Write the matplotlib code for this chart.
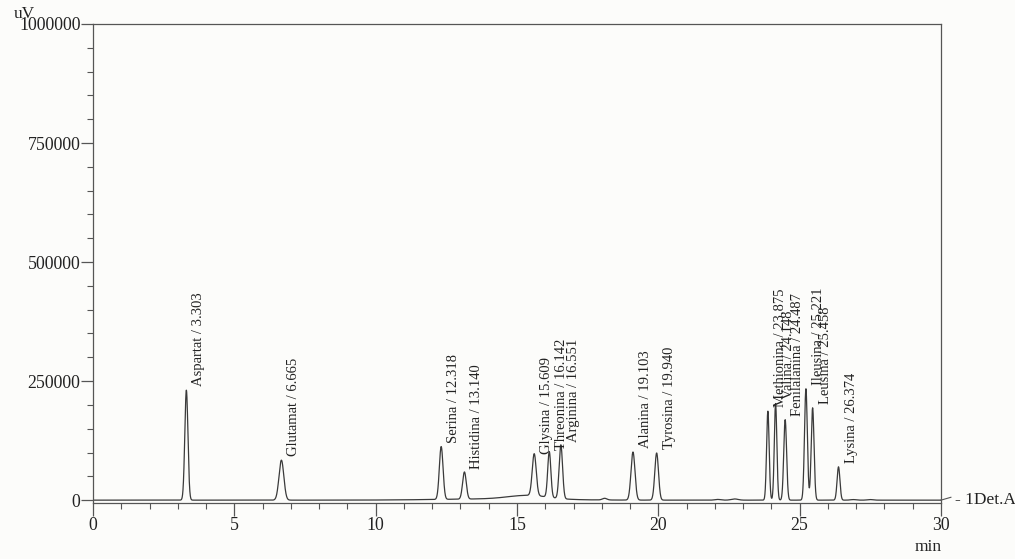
import numpy as np
import matplotlib.pyplot as plt
from matplotlib.ticker import MultipleLocator, FormatStrFormatter

# Puncak asam amino: nama, waktu retensi (menit), tinggi (uV), lebar (sigma, menit)
nama = ['Aspartat', 'Glutamat', 'Serina', 'Histidina', 'Glysina', 'Threonina',
        'Arginina', 'Alanina', 'Tyrosina', 'Methionina', 'Valina',
        'Fenilalanina', 'Ileusina', 'Leusina', 'Lysina']
waktu = [3.303, 6.665, 12.318, 13.140, 15.609, 16.142, 16.551, 19.103,
         19.940, 23.875, 24.148, 24.487, 25.221, 25.458, 26.374]
tinggi = [231000, 84000, 111000, 57000, 88000, 96000, 113000, 101000,
          99000, 187000, 203000, 169000, 234000, 194000, 70000]
lebar = [0.055, 0.085, 0.065, 0.065, 0.07, 0.055, 0.06, 0.07,
         0.065, 0.045, 0.045, 0.05, 0.05, 0.05, 0.05]

# gundukan garis dasar dan puncak kecil tanpa label
dasar_waktu = [14.2, 15.4, 18.1, 22.1, 22.7, 26.9, 27.5]
dasar_tinggi = [2500, 8000, 3500, 1500, 2500, 1200, 1200]
dasar_lebar = [2.0, 0.7, 0.08, 0.1, 0.12, 0.1, 0.1]

t = np.linspace(0, 30, 9001)
sinyal = np.zeros_like(t)
for w, h, s in zip(waktu + dasar_waktu, tinggi + dasar_tinggi, lebar + dasar_lebar):
    sinyal += h * np.exp(-0.5 * ((t - w) / s) ** 2)

plt.rcParams['font.family'] = ['Liberation Serif', 'DejaVu Serif']

fig = plt.figure(figsize=(10.15, 5.59), dpi=100, facecolor='#fcfcfa')
ax = fig.add_axes([93 / 1015, 1 - 503 / 559, (941 - 93) / 1015, (503 - 24) / 559])
ax.set_facecolor('#fcfcfa')

ax.plot(t, sinyal, color='#3a3a3a', lw=0.9)

for n, w, h in zip(nama, waktu, tinggi):
    ax.annotate(f'{n} / {w:.3f}', xy=(w, h), xytext=(9, 3), textcoords='offset points',
                rotation=90, ha='center', va='bottom', fontsize=10.5, color='#222222')

ax.set_xlim(0, 30)
ax.set_ylim(-6000, 1000000)
ax.xaxis.set_major_locator(MultipleLocator(5))
ax.xaxis.set_minor_locator(MultipleLocator(1))
ax.yaxis.set_major_locator(MultipleLocator(250000))
ax.yaxis.set_minor_locator(MultipleLocator(50000))
ax.yaxis.set_major_formatter(FormatStrFormatter('%d'))

for sp in ax.spines.values():
    sp.set_color('#555555')
    sp.set_linewidth(0.9)

ax.tick_params(which='major', length=9, width=0.9, color='#555555', labelsize=12.8,
               labelcolor='#222222', pad=1)
ax.tick_params(axis='y', which='major', pad=0)
ax.tick_params(which='minor', length=4, width=0.8, color='#555555')

fig.text(14 / 1015, 1 - 14 / 559, 'uV', fontsize=12.5, color='#222222', va='center')
fig.text(942 / 1015, 1 - 547 / 559, 'min', fontsize=12.5, color='#222222',
         ha='right', va='center')
ax.plot([30, 30.35], [0, 6000], color='#555555', lw=0.8, clip_on=False)
ax.text(30.5, 0, '- 1Det.A', fontsize=12.5, color='#222222', va='center', clip_on=False)

fig.savefig('out.png', dpi=100, facecolor=fig.get_facecolor())
